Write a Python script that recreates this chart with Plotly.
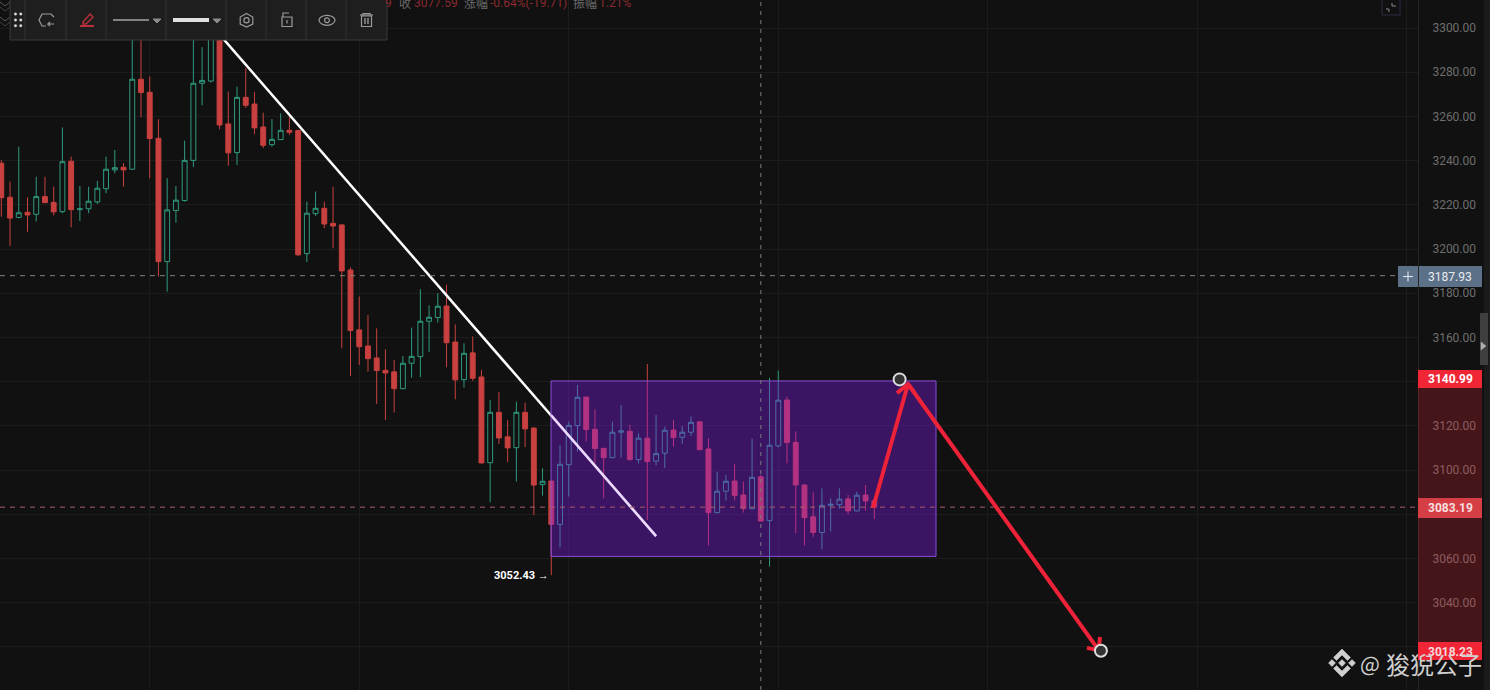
import plotly.graph_objects as go

W, H = 1490, 690
PLOT_W = 1418

BG = "#111111"
RED = "#c8403f"
GREEN = "#2f9a80"
TAG_RED = "#f02536"

opens = [3238.8, 3223.4, 3214.3, 3216.6, 3215.7, 3223.7, 3221.1, 3216.9, 3239.7, 3217.8,
         3218.2, 3221.3, 3227.3, 3235.8, 3237.0, 3236.1, 3276.8, 3270.9, 3250.1, 3194.3,
         3217.4, 3221.9, 3240.1, 3275.0, 3276.0, 3302.1, 3256.6, 3243.6, 3268.6, 3265.6,
         3255.2, 3247.2, 3249.5, 3253.7, 3253.6, 3197.9, 3216.0, 3218.4, 3211.6, 3210.9,
         3190.5, 3163.4, 3156.1, 3150.7, 3145.1, 3144.4, 3136.8, 3148.3, 3151.3, 3167.3,
         3169.0, 3174.2, 3157.9, 3140.9, 3153.0, 3142.1, 3103.3, 3126.1, 3115.0, 3110.1,
         3126.1, 3119.0, 3093.4, 3095.0, 3075.4, 3102.4, 3120.1, 3133.0, 3118.4, 3109.8,
         3105.6, 3117.1, 3117.5, 3104.7, 3114.4, 3104.0, 3107.6, 3118.1, 3114.8, 3117.1,
         3121.8, 3109.5, 3080.7, 3090.4, 3095.0, 3088.7, 3082.5, 3096.9, 3077.1, 3110.9,
         3131.7, 3112.5, 3093.2, 3078.8, 3071.7, 3084.0, 3084.3, 3086.9, 3081.5, 3088.7,
         3086.1]
highs = [3240.3, 3230.5, 3246.3, 3223.4, 3232.7, 3232.7, 3228.2, 3255.0, 3241.8, 3228.5,
         3228.2, 3230.8, 3241.8, 3244.8, 3238.8, 3305.0, 3299.1, 3278.0, 3258.7, 3232.0,
         3228.5, 3249.0, 3297.6, 3291.3, 3309.7, 3303.6, 3271.2, 3273.5, 3281.8, 3271.1,
         3261.7, 3258.8, 3261.4, 3259.9, 3254.0, 3221.4, 3226.0, 3221.4, 3228.2, 3211.2,
         3191.7, 3178.5, 3170.1, 3164.1, 3154.6, 3149.8, 3151.6, 3164.4, 3181.8, 3174.5,
         3180.0, 3183.9, 3165.9, 3157.3, 3160.4, 3145.3, 3131.7, 3135.3, 3122.6, 3130.9,
         3130.5, 3119.3, 3100.8, 3095.2, 3111.3, 3121.9, 3138.5, 3133.1, 3127.5, 3109.9,
         3121.9, 3129.4, 3120.4, 3116.6, 3148.0, 3124.9, 3119.6, 3122.6, 3119.9, 3124.2,
         3121.9, 3114.4, 3099.3, 3097.8, 3102.7, 3094.8, 3114.2, 3097.8, 3141.7, 3145.0,
         3133.2, 3117.4, 3093.5, 3089.9, 3091.7, 3087.2, 3091.7, 3088.7, 3090.2, 3093.2,
         3086.4]
lows = [3214.6, 3201.4, 3213.9, 3207.8, 3212.4, 3220.7, 3215.2, 3216.2, 3209.8, 3212.7,
        3216.2, 3220.4, 3225.2, 3234.3, 3228.2, 3235.8, 3259.6, 3232.0, 3187.5, 3180.7,
        3211.9, 3221.4, 3237.0, 3265.0, 3275.3, 3254.2, 3237.7, 3238.0, 3263.8, 3252.0,
        3245.7, 3246.3, 3249.3, 3251.6, 3196.8, 3194.1, 3215.0, 3209.4, 3200.3, 3155.1,
        3142.5, 3147.5, 3144.5, 3129.9, 3122.6, 3126.0, 3136.5, 3141.8, 3142.0, 3153.4,
        3166.7, 3146.5, 3132.0, 3137.3, 3140.3, 3102.9, 3085.4, 3111.8, 3103.5, 3094.8,
        3110.4, 3079.5, 3088.4, 3052.43, 3065.0, 3088.0, 3108.3, 3112.9, 3103.0, 3087.2,
        3105.3, 3105.6, 3104.3, 3103.0, 3077.4, 3102.0, 3100.8, 3110.6, 3111.8, 3115.4,
        3109.0, 3065.8, 3080.4, 3086.2, 3086.2, 3080.7, 3082.2, 3076.6, 3056.3, 3110.3,
        3103.0, 3071.4, 3065.8, 3069.8, 3064.1, 3072.1, 3082.5, 3080.1, 3081.2, 3081.5,
        3077.7]
closes = [3223.2, 3214.0, 3216.4, 3215.4, 3223.7, 3221.0, 3216.8, 3239.5, 3217.8, 3218.2,
          3221.6, 3227.5, 3236.1, 3236.8, 3235.8, 3276.8, 3270.8, 3250.0, 3194.3, 3217.7,
          3222.1, 3240.1, 3275.0, 3276.3, 3303.6, 3256.1, 3243.5, 3268.6, 3265.0, 3254.8,
          3246.9, 3249.6, 3253.7, 3252.8, 3197.4, 3216.2, 3218.4, 3211.3, 3210.4, 3190.1,
          3163.1, 3155.8, 3150.4, 3145.0, 3143.9, 3136.8, 3148.3, 3151.4, 3167.3, 3169.1,
          3174.1, 3157.6, 3140.8, 3152.8, 3141.5, 3103.2, 3126.1, 3114.5, 3110.0, 3126.1,
          3118.6, 3093.2, 3094.9, 3075.4, 3102.6, 3120.2, 3132.9, 3118.3, 3109.7, 3105.6,
          3117.1, 3117.7, 3104.7, 3114.4, 3103.8, 3107.4, 3118.0, 3114.7, 3117.1, 3121.6,
          3109.2, 3080.7, 3090.4, 3094.9, 3088.4, 3082.5, 3096.7, 3076.9, 3111.2, 3131.6,
          3112.4, 3093.2, 3078.4, 3071.7, 3084.0, 3084.5, 3086.8, 3081.5, 3088.6, 3086.0,
          3083.19]

y_ticks = list(range(3020, 3301, 20))
hidden_ticks = [3020, 3080, 3140]  # labels covered by the price tags
y_ticktext = ["" if v in hidden_ticks else f"{v:.2f}" for v in y_ticks]
x_grid = [17, 41, 65, 89, 113, 137, 161]

x_range = [-0.15, 162.28]
y_range = [3000.45, 3312.67]

# drawn objects, in chart units
trend_x = [22.76, 75.0]
trend_y = [3307.2, 3070.1]
trend_in_box = [(62.97, 3124.9), (75.0, 3070.1)]
box_x = [62.97, 107.07]
box_y = [3060.9, 3140.3]
arrow_up = [(99.85, 3082.8), (103.86, 3138.9)]
arrow_up_wings = [(102.6, 3134.8), (103.86, 3138.9), (104.55, 3135.3)]
arrow_down = [(103.86, 3138.9), (125.7, 3018.5)]
arrow_down_wings = [(125.85, 3024.4), (125.7, 3018.5), (124.36, 3019.5)]
handle_points = [(102.9, 3140.99), (125.96, 3018.23)]
crosshair_x = 87
crosshair_y = 3187.93
last_price = 3083.19
low_x, low_price = 63, 3052.43


def fx(x):
    return x / W


def fy(y):
    return 1 - y / H


def path(points, close=False):
    d = "M" + " L".join(f"{fx(x):.5f},{fy(y):.5f}" for x, y in points)
    return d + (" Z" if close else "")


def data_path(points):
    return "M" + " L".join(f"{x},{y}" for x, y in points)


shapes = []


def rect(x0, y0, x1, y1, fill, line=None, width=1, layer="above"):
    shapes.append(dict(type="rect", xref="paper", yref="paper", x0=fx(x0), x1=fx(x1), y0=fy(y1), y1=fy(y0),
                       fillcolor=fill, line=dict(color=line or fill, width=width if line else 0), layer=layer))


def poly(points, color, width=1, close=False, fill=None):
    shapes.append(dict(type="path", xref="paper", yref="paper", path=path(points, close),
                       fillcolor=fill or "rgba(0,0,0,0)", line=dict(color=color, width=width), layer="above"))


def oval(cx, cy, rx, ry, color, width=1, fill=None):
    shapes.append(dict(type="circle", xref="paper", yref="paper", x0=fx(cx - rx), x1=fx(cx + rx),
                       y0=fy(cy + ry), y1=fy(cy - ry), fillcolor=fill or "rgba(0,0,0,0)",
                       line=dict(color=color, width=width), layer="above"))


# purple range box, sits over the candles
shapes.append(dict(type="rect", xref="x", yref="y", x0=box_x[0], x1=box_x[1], y0=box_y[0], y1=box_y[1],
                   fillcolor="rgba(137,26,251,0.35)", line=dict(color="#8a4fd8", width=1), layer="above"))
shapes.append(dict(type="path", xref="x", yref="y", path=data_path(trend_in_box),
                   line=dict(color="rgba(255,255,255,0.55)", width=2.5), layer="above"))

# crosshair and last price lines
shapes.append(dict(type="line", xref="x", yref="paper", x0=crosshair_x, x1=crosshair_x, y0=0, y1=1,
                   line=dict(color="#7c7c7c", width=1, dash="4px,5px"), layer="above"))
shapes.append(dict(type="line", xref="paper", yref="y", x0=0, x1=fx(1398), y0=crosshair_y, y1=crosshair_y,
                   line=dict(color="#828282", width=1, dash="5px,5px"), layer="above"))
shapes.append(dict(type="line", xref="paper", yref="y", x0=0, x1=fx(1424), y0=last_price, y1=last_price,
                   line=dict(color="#a8606a", width=1, dash="5px,5px"), layer="above"))

# right edge strip and axis selection band
rect(1484, 0, 1490, 690, "#1b1b1b", layer="below")
rect(1480, 313, 1488, 365, "#3f3f3f")
poly([(1481, 342), (1486, 346), (1481, 350)], "#b0b0b0", 0.5, True, "#b0b0b0")
rect(1418, 379, 1482, 651, "rgba(240,37,54,0.24)")

# axis tags
rect(1398, 266, 1418, 287, "#5c7088")
rect(1419, 266, 1482, 287, "#5c7088")
poly([(1403, 276.5), (1413, 276.5)], "#d8dee6", 1.2)
poly([(1408, 271.5), (1408, 281.5)], "#d8dee6", 1.2)
rect(1418, 370, 1482, 388, TAG_RED)
rect(1418, 498, 1482, 518, "#d63e46")
rect(1418, 642, 1482, 660, TAG_RED)

# small expand icon top right
rect(1382, -1, 1400, 15, "rgba(0,0,0,0)", "#2f2b45")
poly([(1392, 3), (1392, 6), (1396, 6)], "#8a8a8a")
poly([(1386, 9), (1389, 9), (1389, 12)], "#8a8a8a")

# chevrons peeking out from behind the toolbar
for cy in (4, 19):
    poly([(0, cy - 2), (5, cy + 2), (10, cy - 2)], "#5a5a5a")
    poly([(0, cy + 3), (5, cy + 7), (10, cy + 3)], "#454545")

# drawing toolbar
rect(10, -2, 387, 40, "#1e1e1e", "#3a3a3a")
for x in (25, 66, 106, 166, 226, 266, 306, 346):
    poly([(x, 0), (x, 40)], "#333333")
for x in (15.5, 20.8):
    for y in (14, 20, 25.7):
        oval(x, y, 1.2, 1.2, "#d8d8d8", 0.5, "#d8d8d8")
poly([(54, 17), (51, 14), (42, 14), (39, 20), (42, 26), (46, 26)], "#9a9a9a", 1.2)
poly([(54, 24), (48, 24), (50, 22)], "#9a9a9a", 1.2)
poly([(48, 24), (50, 26)], "#9a9a9a", 1.2)
poly([(83, 22), (90, 14), (93, 17), (86, 24), (83, 24)], "#b8303a", 1.4, True)
poly([(80, 26), (94, 26)], "#b8303a", 2)
poly([(113, 20), (149, 20)], "#e8e8e8", 1)
poly([(153, 19), (161, 19), (157, 23)], "#8a8a8a", 1, True, "#8a8a8a")
poly([(173, 20), (209, 20)], "#e0e0e0", 4)
poly([(213, 19), (221, 19), (217, 23)], "#8a8a8a", 1, True, "#8a8a8a")
poly([(246.5, 13.5), (252.8, 17), (252.8, 24), (246.5, 27), (240.2, 24), (240.2, 17)], "#9a9a9a", 1.2, True)
oval(246.5, 20.3, 2.6, 2.6, "#9a9a9a", 1.2)
poly([(282, 17), (292, 17), (292, 26.5), (282, 26.5)], "#9a9a9a", 1.2, True)
poly([(283, 17), (283, 13), (289, 13)], "#9a9a9a", 1.2)
poly([(287, 20), (287, 23.5)], "#9a9a9a", 1.2)
oval(327, 20.3, 8, 5, "#9a9a9a", 1.2)
oval(327, 20.3, 2.4, 2.4, "#9a9a9a", 1.2)
poly([(360, 15), (373, 15)], "#9a9a9a", 1.2)
poly([(363, 15), (363, 13.5), (370, 13.5), (370, 15)], "#9a9a9a", 1.2)
poly([(361.5, 16), (371.5, 16), (371.5, 26.5), (361.5, 26.5)], "#9a9a9a", 1.2, True)
poly([(365, 18), (365, 24)], "#9a9a9a", 1.4)
poly([(368, 18), (368, 24)], "#9a9a9a", 1.4)

# watermark logo
lx, ly = 1342, 663
logo_grey = "#cfcfcf"
for dx in (-10, 0, 10):
    poly([(lx + dx, ly - 3.5), (lx + dx + 3.5, ly), (lx + dx, ly + 3.5), (lx + dx - 3.5, ly)], logo_grey, 0.5, True, logo_grey)
for sign in (-1, 1):
    poly([(lx, ly + sign * 14), (lx + 8.5, ly + sign * 5.5), (lx + 5.5, ly + sign * 2.5), (lx, ly + sign * 8),
          (lx - 5.5, ly + sign * 2.5), (lx - 8.5, ly + sign * 5.5)], logo_grey, 0.5, True, logo_grey)

# red arrows of the drawing
for pts in (arrow_up, arrow_up_wings, arrow_down, arrow_down_wings):
    shapes.append(dict(type="path", xref="x", yref="y", path=data_path(pts),
                       line=dict(color="#ee2238", width=4), layer="above"))

# anchor handles of the drawing
for hx, hy in handle_points:
    shapes.append(dict(type="circle", xref="x", yref="y", xsizemode="pixel", ysizemode="pixel", xanchor=hx, yanchor=hy,
                       x0=-6, x1=6, y0=-6, y1=6, fillcolor="#333333", line=dict(color="#dcdcdc", width=2), layer="above"))

annotations = []


def label(x, y, text, color, size=12, bold=False, anchor="center", family="Roboto"):
    t = f"<b>{text}</b>" if bold else text
    annotations.append(dict(xref="paper", yref="paper", x=fx(x), y=fy(y), text=t, showarrow=False, xanchor=anchor,
                            yanchor="middle", font=dict(color=color, size=size, family=family), borderpad=0, borderwidth=0))


label(1450, 276.5, "3187.93", "#e8ecf0")
label(1450, 379, "3140.99", "#ffffff", bold=True)
label(1450, 507.5, "3083.19", "#f6dede", bold=True)
label(1450, 652, "3018.23", "#f8d8d8", bold=True)

# header quote, cut off by the top of the window
cjk = "Noto Sans CJK SC"
label(385, 3, "9", "#8a2a30", anchor="left")
label(399, 3, "收", "#6a6a6a", anchor="left", family=cjk)
label(414, 3, "3077.59", "#8a2a30", anchor="left")
label(464, 3, "涨幅", "#6a6a6a", anchor="left", family=cjk)
label(490, 3, "-0.64%(-19.71)", "#8a2a30", anchor="left")
label(573, 3, "振幅", "#6a6a6a", anchor="left", family=cjk)
label(599, 3, "1.21%", "#8a2a30", anchor="left")

# watermark text
label(1360, 663, "@", "#d0d0d0", 21, anchor="left", family=cjk)
label(1386, 663, "狻猊公子", "#d0d0d0", 24, anchor="left", family=cjk)

annotations.append(dict(xref="x", yref="y", x=low_x, y=low_price, text="<b>3052.43 →</b>", showarrow=False,
                        xanchor="right", yanchor="middle", xshift=0, font=dict(color="#ffffff", size=11, family="Roboto")))

fig = go.Figure()

fig.add_trace(go.Candlestick(
    x=list(range(len(opens))),
    open=opens,
    high=highs,
    low=lows,
    close=closes,
    whiskerwidth=0,
    increasing=dict(line=dict(color=GREEN, width=1), fillcolor=BG),
    decreasing=dict(line=dict(color=RED, width=1), fillcolor=RED),
    hoverinfo="skip",
    showlegend=False,
))

fig.add_trace(go.Scatter(
    x=trend_x,
    y=trend_y,
    mode="lines",
    line=dict(color="#ffffff", width=2.5),
    hoverinfo="skip",
    showlegend=False,
))

fig.update_layout(
    width=W,
    height=H,
    margin=dict(l=0, r=0, t=0, b=0),
    paper_bgcolor=BG,
    plot_bgcolor=BG,
    showlegend=False,
    boxgap=0.2,
    shapes=shapes,
    annotations=annotations,
    xaxis=dict(
        domain=[0, PLOT_W / W],
        range=x_range,
        tickvals=x_grid,
        showticklabels=False,
        showgrid=True,
        gridcolor="#1c1c1c",
        gridwidth=1,
        zeroline=False,
        rangeslider=dict(visible=False),
        ticks="",
    ),
    yaxis=dict(
        domain=[0, 1],
        range=y_range,
        side="right",
        tickvals=y_ticks,
        ticktext=y_ticktext,
        ticklabelstandoff=11,
        tickfont=dict(family="Roboto", size=12, color="#6e6e6e"),
        showgrid=True,
        gridcolor="#1c1c1c",
        gridwidth=1,
        zeroline=False,
        showline=True,
        linecolor="#262626",
        ticks="",
    ),
)

# the page's default 8px body margin would shift the whole chart
fig.write_html("out.html", config=dict(displayModeBar=False),
               post_script="document.body.style.margin='0';document.body.style.overflow='hidden';")
